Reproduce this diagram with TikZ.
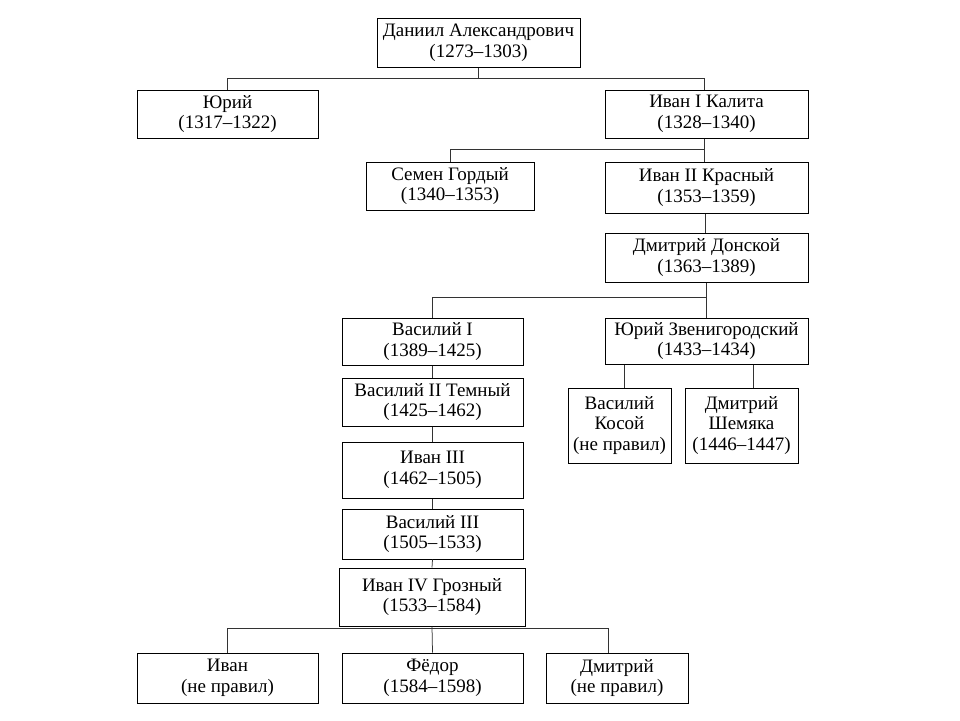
\documentclass[tikz,border=0pt]{standalone}
\usepackage{fontspec}
\setmainfont{Liberation Serif}
\begin{document}
\begin{tikzpicture}[x=1pt,y=-1pt,
  box/.style={draw=black,line width=1pt,inner sep=0pt,align=center,
    font=\fontsize{19}{20.5}\selectfont},
  link/.style={draw=black!80,line width=0.75pt}]
\useasboundingbox (0,0) rectangle (960,720);
% boxes
\node[box,minimum width=203,minimum height=49] (dan) at (478.5,42.5) {Даниил Александрович\\(1273–1303)};
\node[box,minimum width=181,minimum height=48] (yuri) at (227.5,114) {Юрий\\(1317–1322)};
\node[box,minimum width=203,minimum height=48] (kal) at (706.5,114) {Иван I Калита\\(1328–1340)};
\node[box,minimum width=168,minimum height=48] (sem) at (450,186) {Семен Гордый\\(1340–1353)};
\node[box,minimum width=203,minimum height=51] (iv2) at (706.5,187.5) {Иван II Красный\\(1353–1359)};
\node[box,minimum width=203,minimum height=49] (dd) at (706.5,257.5) {Дмитрий Донской\\(1363–1389)};
\node[box,minimum width=181,minimum height=47] (v1) at (432.5,341.5) {Василий I\\(1389–1425)};
\node[box,minimum width=203,minimum height=46] (yz) at (706.5,341) {Юрий Звенигородский\\(1433–1434)};
\node[box,minimum width=181,minimum height=48] (v2) at (432.5,402) {Василий II Темный\\(1425–1462)};
\node[box,minimum width=181,minimum height=56] (i3) at (432.5,470) {Иван III\\(1462–1505)};
\node[box,minimum width=181,minimum height=50] (v3) at (432.5,534) {Василий III\\(1505–1533)};
\node[box,minimum width=186,minimum height=58] (i4) at (432,597) {Иван IV Грозный\\(1533–1584)};
\node[box,minimum width=181,minimum height=50] (ivan) at (227.5,678) {Иван\\(не правил)};
\node[box,minimum width=181,minimum height=50] (fed) at (432.5,678) {Фёдор\\(1584–1598)};
\node[box,minimum width=142,minimum height=50] (dmi) at (617,678) {Дмитрий\\(не правил)};
\node[box,minimum width=103,minimum height=75] (kos) at (619.5,425.5) {Василий\\Косой\\(не правил)};
\node[box,minimum width=113,minimum height=75] (shem) at (741.5,425.5) {Дмитрий\\Шемяка\\(1446–1447)};
% junction levels
\coordinate (j1) at (0,78);
\coordinate (j2) at (0,149);
\coordinate (j3) at (0,297);
\coordinate (j4) at (0,628);
% connectors
\draw[link] (dan.south) -- (dan.south |- j1);
\draw[link] (yuri.north) -- (yuri.north |- j1) -- ([xshift=-2.5pt]kal.north |- j1) -- ([xshift=-2.5pt]kal.north);
\draw[link] ([xshift=-2.5pt]kal.south) -- ([xshift=-2.5pt]iv2.north);
\draw[link] (sem.north) -- (sem.north |- j2) -- ([xshift=-2.5pt]kal.south |- j2);
\draw[link] ([xshift=-1pt]iv2.south) -- ([xshift=-1pt]dd.north);
\draw[link] ([xshift=-0.5pt]dd.south) -- ([xshift=-0.5pt]yz.north);
\draw[link] (v1.north) -- (v1.north |- j3) -- ([xshift=-0.5pt]dd.south |- j3);
\draw[link] (v1.south) -- (v2.north);
\draw[link] (v2.south) -- (i3.north);
\draw[link] (i3.south) -- (v3.north);
\draw[link] (v3.south) -- (i4.north);
\draw[link] (i4.south) -- (fed.north);
\draw[link] (ivan.north) -- (ivan.north |- j4) -- ([xshift=-9pt]dmi.north |- j4) -- ([xshift=-9pt]dmi.north);
\draw[link] ([xshift=4.5pt]kos.north) -- ([xshift=4.5pt]kos.north |- yz.south);
\draw[link] ([xshift=11.5pt]shem.north) -- ([xshift=11.5pt]shem.north |- yz.south);
\end{tikzpicture}
\end{document}
